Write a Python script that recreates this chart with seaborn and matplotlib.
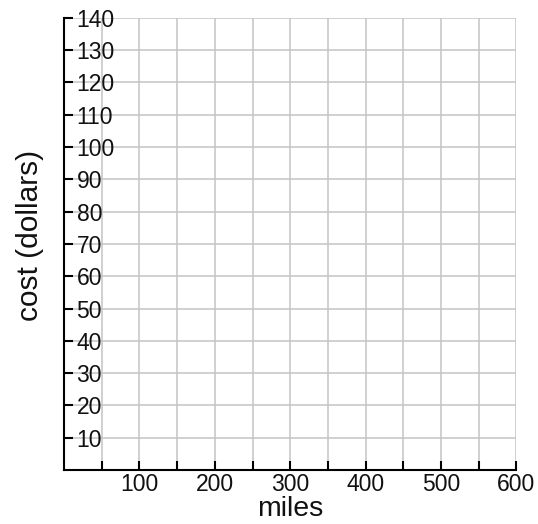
import matplotlib
matplotlib.use("Agg")
import matplotlib.pyplot as plt
import seaborn as sns

# axis values
x_ticks = [50, 100, 150, 200, 250, 300, 350, 400, 450, 500, 550, 600]
x_labels = ["", "100", "", "200", "", "300", "", "400", "", "500", "", "600"]
y_ticks = [10, 20, 30, 40, 50, 60, 70, 80, 90, 100, 110, 120, 130, 140]
y_labels = [str(v) for v in y_ticks]

sns.set_theme(style="white")
plt.rcParams['font.family'] = ['Liberation Sans', 'DejaVu Sans']

fig = plt.figure(figsize=(5.38, 5.24), dpi=100)
ax = fig.add_axes([0.119, 0.103, 0.841, 0.863])

ax.set_xlim(0, 600)
ax.set_ylim(0, 140)
ax.set_xticks(x_ticks)
ax.set_xticklabels(x_labels)
ax.set_yticks(y_ticks)
ax.set_yticklabels(y_labels)

ax.grid(True, color="#c4c4c4", linewidth=1.1)
ax.set_axisbelow(True)
sns.despine(ax=ax)
for side in ["left", "bottom"]:
    ax.spines[side].set_color("black")
    ax.spines[side].set_linewidth(1.5)
    ax.spines[side].set_zorder(3)

ax.tick_params(axis="both", direction="in", length=6.5, width=1.5, color="black",
               labelsize=16.5, labelcolor="#111111", bottom=True, left=True)
ax.tick_params(axis="x", pad=2)
ax.tick_params(axis="y", pad=-9)
for lab in ax.get_yticklabels():
    lab.set_horizontalalignment("left")

ax.set_xlabel("miles", fontsize=20.5, color="#111111", labelpad=0)
ax.set_ylabel("cost (dollars)", fontsize=21.5, color="#111111")
ax.yaxis.set_label_coords(-0.044, 0.518)

plt.savefig("out.png", dpi=100)
